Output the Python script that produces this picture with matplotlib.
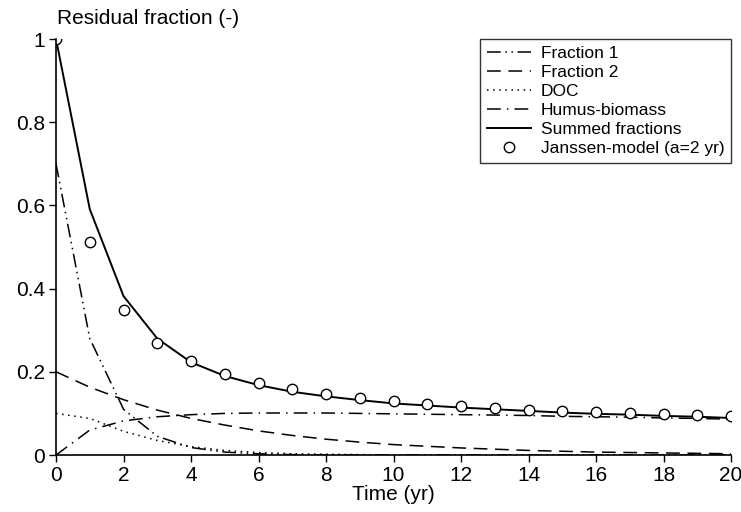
import matplotlib
matplotlib.use('Agg')
import matplotlib.pyplot as plt
import numpy as np

plt.rcParams['font.family'] = ['Liberation Sans', 'DejaVu Sans']

years = np.arange(0, 21)
fraction1 = [0.700, 0.280, 0.110, 0.045, 0.018, 0.007, 0.003, 0.001, 0.0, 0.0, 0.0,
             0.0, 0.0, 0.0, 0.0, 0.0, 0.0, 0.0, 0.0, 0.0, 0.0]
fraction2 = [0.200, 0.163, 0.133, 0.108, 0.088, 0.072, 0.058, 0.047, 0.038, 0.031, 0.025,
             0.021, 0.017, 0.014, 0.011, 0.009, 0.007, 0.006, 0.005, 0.004, 0.003]
doc = [0.100, 0.088, 0.057, 0.035, 0.020, 0.011, 0.006, 0.003, 0.002, 0.001, 0.0,
       0.0, 0.0, 0.0, 0.0, 0.0, 0.0, 0.0, 0.0, 0.0, 0.0]
humus = [0.0, 0.060, 0.082, 0.092, 0.097, 0.100, 0.101, 0.101, 0.101, 0.100, 0.099,
         0.098, 0.097, 0.096, 0.095, 0.093, 0.092, 0.091, 0.089, 0.088, 0.086]
janssen = [1.0, 0.512, 0.348, 0.270, 0.225, 0.195, 0.173, 0.158, 0.147, 0.137, 0.130,
           0.123, 0.118, 0.112, 0.108, 0.106, 0.103, 0.100, 0.098, 0.095, 0.094]

summed = np.array(fraction1) + np.array(fraction2) + np.array(doc) + np.array(humus)

fig = plt.figure(figsize=(7.41, 5.12), dpi=100)
ax = fig.add_axes([0.0756, 0.1113, 0.911, 0.8125])

lw = 1.1
ax.plot(years, fraction1, color='black', lw=lw, ls=(0, (9, 3, 1, 3, 1, 3)), label='Fraction 1')
ax.plot(years, fraction2, color='black', lw=lw, ls=(0, (9, 5)), label='Fraction 2')
ax.plot(years, doc, color='black', lw=lw, ls=(0, (1, 3)), label='DOC')
ax.plot(years, humus, color='black', lw=lw, ls=(0, (9, 4, 1, 4)), label='Humus-biomass')
ax.plot(years, summed, color='black', lw=1.4, label='Summed fractions')
ax.plot(years, janssen, 'o', ms=7.5, mfc='white', mec='black', mew=1.0,
        ls='none', label='Janssen-model (a=2 yr)')

ax.set_xlim(0, 20)
ax.set_ylim(0, 1)
ax.set_xticks(np.arange(0, 21, 2))
ax.set_yticks([0, 0.2, 0.4, 0.6, 0.8, 1])
ax.set_yticklabels(['0', '0.2', '0.4', '0.6', '0.8', '1'])
ax.tick_params(labelsize=15, direction='out', length=5, width=1, pad=3)
ax.spines['top'].set_visible(False)
ax.spines['right'].set_visible(False)
ax.spines['left'].set_linewidth(1.2)
ax.spines['bottom'].set_linewidth(1.2)

ax.set_xlabel('Time (yr)', fontsize=15, labelpad=0)
fig.text(0.077, 0.963, 'Residual fraction (-)', fontsize=15, ha='left', va='center')

leg = ax.legend(loc='upper right', borderaxespad=0, fontsize=12.5, frameon=True,
                fancybox=False, edgecolor='black', handlelength=2.5,
                labelspacing=0.22, handletextpad=0.57, borderpad=0.4)
leg.get_frame().set_linewidth(1.0)

fig.savefig('out.png', dpi=100)
